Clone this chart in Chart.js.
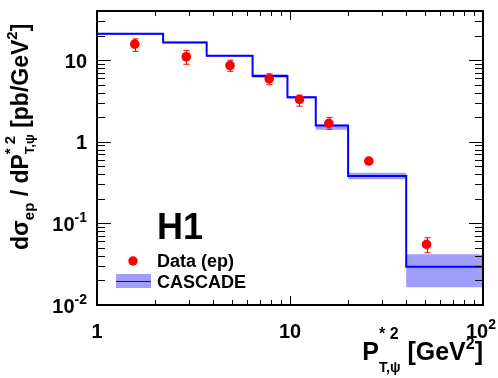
<!DOCTYPE html>
<html>
<head>
<meta charset="utf-8">
<script src="https://cdn.jsdelivr.net/npm/chart.js@4/dist/chart.umd.min.js"></script>
<style>
  html, body { margin: 0; padding: 0; background: #fff; }
  #wrap { width: 498px; height: 378px; }
</style>
</head>
<body>
<div id="wrap"><canvas id="c" width="498" height="378"></canvas></div>
<script>
// CASCADE histogram: bin edges in P*T^2 [GeV^2], value per bin, band limits
const binEdges = [1, 2.2, 3.7, 6.4, 9.7, 13.6, 20, 40, 100];
const cascade = [21, 16.5, 11.3, 6.4, 3.5, 1.58, 0.38, 0.0294];
const cascadeUp = [21.5, 16.9, 11.6, 6.7, 3.6, 1.62, 0.418, 0.0418];
const cascadeDown = [20.5, 16.1, 11.0, 6.1, 3.4, 1.40, 0.347, 0.0165];

// H1 data (ep)
const dataX = [1.57, 2.9, 4.89, 7.8, 11.2, 15.9, 25.6, 51];
const dataY = [15.7, 11.0, 8.6, 5.9, 3.3, 1.68, 0.58, 0.0553];
const dataHi = [18.2, 13.1, 10.0, 6.8, 3.73, 1.99, 0.62, 0.0667];
const dataLo = [12.8, 8.9, 7.3, 5.0, 2.73, 1.42, 0.54, 0.0437];

// axis ticks
const xMajor = [1, 10, 100];
const xLabels = [["1", ""], ["10", ""], ["10", "2"]];
const yMajor = [0.01, 0.1, 1, 10];
const yLabels = [["10", "-2"], ["10", "-1"], ["1", ""], ["10", ""]];

const FONT = "'Liberation Sans', Arial, sans-serif";
const blue = "#0000ff";
const bandColor = "#9f9ffb";
const red = "#ff0000";

function steps(vals) {
  const pts = vals.map((v, i) => ({ x: binEdges[i], y: v }));
  pts.push({ x: binEdges[binEdges.length - 1], y: vals[vals.length - 1] });
  return pts;
}

function font(size) { return "bold " + size + "px " + FONT; }

// rich text: runs of {t, s, dy} or stacked {sup, sub, s, supDy, subDy}
function runWidth(ctx, r) {
  if (r.t !== undefined) { ctx.font = font(r.s); return ctx.measureText(r.t).width; }
  ctx.font = font(r.supS || r.s);
  const a = ctx.measureText(r.sup).width;
  ctx.font = font(r.s);
  const b = ctx.measureText(r.sub).width;
  return Math.max(a, b);
}
function drawRich(ctx, runs, x, y, align) {
  let total = 0;
  runs.forEach(r => { r.w = runWidth(ctx, r); total += r.w; });
  let cx = x;
  if (align === "right") cx = x - total;
  if (align === "center") cx = x - total / 2;
  ctx.textAlign = "left";
  ctx.textBaseline = "alphabetic";
  runs.forEach(r => {
    if (r.t !== undefined) {
      ctx.font = font(r.s);
      ctx.fillText(r.t, cx, y + (r.dy || 0));
    } else {
      ctx.font = font(r.supS || r.s);
      ctx.fillText(r.sup, cx, y + r.supDy);
      ctx.font = font(r.s);
      ctx.fillText(r.sub, cx, y + r.subDy);
    }
    cx += r.w;
  });
}

const errorBars = {
  id: "errorBars",
  afterDatasetsDraw(chart) {
    const { ctx, scales: { x, y } } = chart;
    ctx.save();
    ctx.strokeStyle = red;
    ctx.lineWidth = 1;
    dataX.forEach((v, i) => {
      const px = Math.round(x.getPixelForValue(v)) + 0.5;
      const top = y.getPixelForValue(dataHi[i]);
      const bot = y.getPixelForValue(dataLo[i]);
      ctx.beginPath();
      ctx.moveTo(px, top); ctx.lineTo(px, bot);
      ctx.moveTo(px - 3, top); ctx.lineTo(px + 3, top);
      ctx.moveTo(px - 3, bot); ctx.lineTo(px + 3, bot);
      ctx.stroke();
    });
    ctx.restore();
  }
};

const frame = {
  id: "frame",
  afterDraw(chart) {
    const { ctx, chartArea: a, scales: { x, y } } = chart;
    ctx.save();
    ctx.strokeStyle = "#000";
    ctx.fillStyle = "#000";

    // ticks (inside, all four sides)
    ctx.lineWidth = 1;
    ctx.beginPath();
    for (let d = 0; d < 2; d++) {
      for (let m = 1; m <= 10; m++) {
        const v = Math.pow(10, d) * m;
        if (v > 100) continue;
        const px = Math.round(x.getPixelForValue(v)) + 0.5;
        const len = (m === 1 || m === 10) ? 9 : 5;
        ctx.moveTo(px, a.bottom); ctx.lineTo(px, a.bottom - len);
        ctx.moveTo(px, a.top); ctx.lineTo(px, a.top + len);
      }
    }
    for (let d = -2; d < 2; d++) {
      for (let m = 1; m <= 9; m++) {
        const v = Math.pow(10, d) * m;
        if (v > y.max) continue;
        const py = Math.round(y.getPixelForValue(v)) + 0.5;
        const len = m === 1 ? 14 : 8;
        ctx.moveTo(a.left, py); ctx.lineTo(a.left + len, py);
        ctx.moveTo(a.right, py); ctx.lineTo(a.right - len, py);
      }
    }
    ctx.stroke();

    // frame
    ctx.lineWidth = 2;
    ctx.strokeRect(a.left, a.top, a.right - a.left, a.bottom - a.top);

    // x tick labels
    xMajor.forEach((v, i) => {
      const px = x.getPixelForValue(v);
      const [main, sup] = xLabels[i];
      if (sup) {
        drawRich(ctx, [{ t: main, s: 20 }, { t: sup, s: 14, dy: -9 }], px - 2, 338, "center");
      } else {
        drawRich(ctx, [{ t: main, s: 20 }], px, 338, "center");
      }
    });
    // y tick labels
    yMajor.forEach((v, i) => {
      const py = y.getPixelForValue(v);
      const [main, sup] = yLabels[i];
      const runs = [{ t: main, s: 20 }];
      if (sup) runs.push({ t: sup, s: 14, dy: -9 });
      drawRich(ctx, runs, 87, py + 7.5, "right");
    });

    // x title
    drawRich(ctx, [
      { t: "P", s: 25 },
      { sup: "* 2", supS: 16, sub: "T,\u03c8", s: 14, supDy: -21, subDy: 12 },
      { t: " [GeV", s: 25 },
      { t: "2", s: 16, dy: -11 },
      { t: "]", s: 25 }
    ], 483, 360, "right");

    // y title (rotated)
    ctx.save();
    ctx.translate(28, 250);
    ctx.rotate(-Math.PI / 2);
    drawRich(ctx, [
      { t: "d\u03c3", s: 23 },
      { t: "ep", s: 15, dy: 6 },
      { t: " / dP", s: 23 },
      { sup: "* 2", supS: 15, sub: "T,\u03c8", s: 13, supDy: -13, subDy: 6 },
      { t: " [pb/GeV", s: 23 },
      { t: "2", s: 15, dy: -11 },
      { t: "]", s: 23 }
    ], 0, 0, "left");
    ctx.restore();

    // H1 label and legend
    ctx.font = font(36);
    ctx.textAlign = "left";
    ctx.textBaseline = "alphabetic";
    ctx.fillText("H1", 157, 239);

    ctx.fillStyle = red;
    ctx.beginPath();
    ctx.arc(133, 261, 4.7, 0, Math.PI * 2);
    ctx.fill();
    ctx.fillStyle = "#000";
    ctx.font = font(18);
    ctx.fillText("Data (ep)", 157, 267);

    ctx.fillStyle = bandColor;
    ctx.fillRect(116, 274, 35, 14);
    ctx.strokeStyle = blue;
    ctx.lineWidth = 1;
    ctx.beginPath();
    ctx.moveTo(116, 281.5); ctx.lineTo(151, 281.5);
    ctx.stroke();
    ctx.fillStyle = "#000";
    ctx.font = font(18);
    ctx.fillText("CASCADE", 157, 288);

    ctx.restore();
  }
};

new Chart(document.getElementById("c"), {
  type: "scatter",
  data: {
    datasets: [
      {
        label: "Data (ep)",
        data: dataX.map((v, i) => ({ x: v, y: dataY[i] })),
        backgroundColor: red,
        borderColor: red,
        pointRadius: 4.8,
        pointHoverRadius: 4.8,
        borderWidth: 0,
        order: 0
      },
      {
        label: "CASCADE",
        data: steps(cascade),
        showLine: true,
        stepped: true,
        borderColor: blue,
        borderWidth: 2,
        pointRadius: 0,
        fill: false,
        order: 1
      },
      {
        label: "band low",
        data: steps(cascadeDown),
        showLine: true,
        stepped: true,
        borderWidth: 0,
        borderColor: "rgba(0,0,0,0)",
        pointRadius: 0,
        fill: false,
        order: 3
      },
      {
        label: "band high",
        data: steps(cascadeUp),
        showLine: true,
        stepped: true,
        borderWidth: 0,
        borderColor: "rgba(0,0,0,0)",
        backgroundColor: bandColor,
        pointRadius: 0,
        fill: "-1",
        order: 2
      }
    ]
  },
  options: {
    responsive: false,
    animation: false,
    layout: { padding: { left: 97, top: 11, right: 15, bottom: 73 } },
    scales: {
      x: { type: "logarithmic", min: 1, max: 100, display: false },
      y: { type: "logarithmic", min: 0.01, max: 40, display: false }
    },
    plugins: {
      legend: { display: false },
      tooltip: { enabled: false },
      filler: { propagate: false }
    }
  },
  plugins: [errorBars, frame]
});
</script>
</body>
</html>
